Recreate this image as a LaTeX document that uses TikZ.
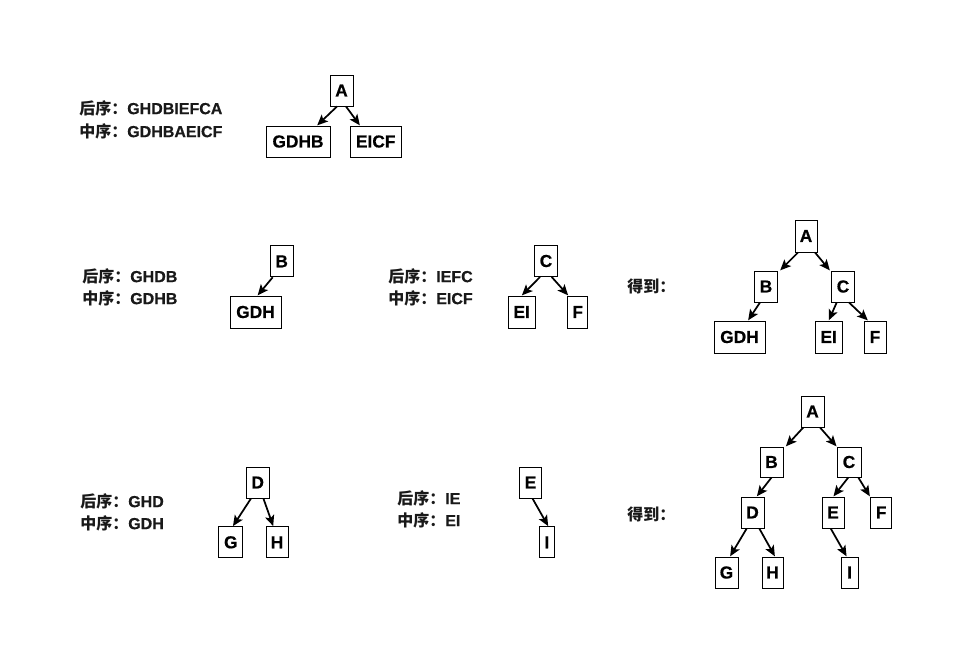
\documentclass[tikz,border=0pt]{standalone}
\usepackage{fontspec}
\setmainfont{Liberation Sans}[BoldFeatures={FakeBold=0.6}]
\newfontfamily\cjk{Noto Sans CJK SC}
\usetikzlibrary{calc,arrows.meta}
\tikzset{
  x=0.75pt, y=-0.75pt,
  bx/.style={draw=black, line width=0.7pt, inner sep=0pt, fill=white,
    font=\fontsize{13}{13}\selectfont\bfseries},
  lbl/.style={anchor=west, inner sep=0pt, font=\fontsize{12}{12}\selectfont\bfseries, text=black!90},
  arr/.style={line width=1.3pt, -{Stealth[length=8pt,width=7pt,inset=1.8pt]}, shorten >=0.2pt}
}
\newcommand{\bxn}[6]{\node[bx, minimum width=#4*0.75pt, minimum height=#5*0.75pt] (#1) at (#2,#3) {#6};}
\begin{document}
\begin{tikzpicture}
\useasboundingbox (0,0) rectangle (961,669);
% ---------- row 1 ----------
\node[lbl] (t1a) at (79,108) {{\cjk 后序：}GHDBIEFCA};
\node[lbl] (t1b) at (79,131) {{\cjk 中序：}GDHBAEICF};
\bxn{A1}{341.5}{90.5}{23}{31}{A}
\bxn{GDHB1}{298}{141.5}{64}{31}{GDHB}
\bxn{EICF1}{375.7}{141.5}{51}{31}{EICF}
\draw[arr] ($(A1.south)+(-4.5,0)$) -- ($(GDHB1.north)+(19,0)$);
\draw[arr] ($(A1.south)+(4.5,0)$) -- ($(EICF1.north)+(-15.7,0)$);
% ---------- row 2 ----------
\node[lbl] (t2a) at (82,276) {{\cjk 后序：}GHDB};
\node[lbl] (t2b) at (82,298) {{\cjk 中序：}GDHB};
\bxn{B2}{281.7}{261.3}{23}{31}{B}
\bxn{GDH2}{255.5}{312}{51}{32}{GDH}
\draw[arr] ($(B2.south)+(-9,0)$) -- ($(GDH2.north)+(2,0)$);
\node[lbl] (t2c) at (388,276) {{\cjk 后序：}IEFC};
\node[lbl] (t2d) at (388,298) {{\cjk 中序：}EICF};
\bxn{C2}{546}{261}{23}{31}{C}
\bxn{EI2}{521.7}{312}{27}{32}{EI}
\bxn{F2}{577.7}{312}{20}{32}{F}
\draw[arr] ($(C2.south)+(-6,0)$) -- (EI2.north);
\draw[arr] ($(C2.south)+(5.7,0)$) -- ($(F2.north)+(-9.4,0)$);
\node[lbl] (t2e) at (627,286) {{\cjk 得到：}};
\bxn{RA2}{806}{236}{22}{32}{A}
\bxn{RB2}{766}{286.5}{23}{31}{B}
\bxn{RC2}{843}{286.5}{23}{31}{C}
\bxn{RGDH2}{739.5}{337}{51}{32}{GDH}
\bxn{REI2}{828.7}{337}{27}{32}{EI}
\bxn{RF2}{875}{337}{22}{32}{F}
\draw[arr] ($(RA2.south)+(-8,0)$) -- ($(RB2.north)+(14,0)$);
\draw[arr] ($(RA2.south)+(9,0)$) -- ($(RC2.north)+(-13,0)$);
\draw[arr] ($(RB2.south)+(-6,0)$) -- ($(RGDH2.north)+(8.5,0)$);
\draw[arr] ($(RC2.south)+(-6.3,0)$) -- (REI2.north);
\draw[arr] ($(RC2.south)+(6,0)$) -- ($(RF2.north)+(-7,0)$);
% ---------- row 3 ----------
\node[lbl] (t3a) at (80,501) {{\cjk 后序：}GHD};
\node[lbl] (t3b) at (80,523) {{\cjk 中序：}GDH};
\bxn{D3}{257.7}{482.5}{23}{31}{D}
\bxn{G3}{230.8}{542.3}{23.7}{31}{G}
\bxn{H3}{277}{542.3}{22}{31}{H}
\draw[arr] ($(D3.south)+(-6.7,0)$) -- ($(G3.north)+(2,0)$);
\draw[arr] ($(D3.south)+(5.7,0)$) -- ($(H3.north)+(-3.7,0)$);
\node[lbl] (t3c) at (397,498) {{\cjk 后序：}IE};
\node[lbl] (t3d) at (397,520) {{\cjk 中序：}EI};
\bxn{E3}{530.5}{482.5}{22}{31}{E}
\bxn{I3}{546.8}{542.3}{15}{31}{I}
\draw[arr] ($(E3.south)+(2,0)$) -- ($(I3.north)+(1.5,0)$);
\node[lbl] (t3e) at (627,514) {{\cjk 得到：}};
\bxn{RA3}{812.5}{411.5}{23}{31}{A}
\bxn{RB3}{771.5}{462}{23}{30}{B}
\bxn{RC3}{849}{462}{24}{30}{C}
\bxn{RD3}{752.5}{512.5}{23}{31}{D}
\bxn{RE3}{833}{512.5}{22}{31}{E}
\bxn{RF3}{881.2}{512.5}{21.5}{31}{F}
\bxn{RG3}{726.5}{572.5}{23}{31}{G}
\bxn{RH3}{772.5}{572.5}{21}{31}{H}
\bxn{RI3}{849.5}{572.5}{17}{31}{I}
\draw[arr] ($(RA3.south)+(-9.2,0)$) -- ($(RB3.north)+(14.2,0)$);
\draw[arr] ($(RA3.south)+(7.5,0)$) -- ($(RC3.north)+(-12.3,0)$);
\draw[arr] (RB3.south) -- ($(RD3.north)+(4.2,0)$);
\draw[arr] ($(RC3.south)+(-0.7,0)$) -- ($(RE3.north)+(0.3,0)$);
\draw[arr] ($(RC3.south)+(9.3,0)$) -- ($(RF3.north)+(-11.2,0)$);
\draw[arr] ($(RD3.south)+(-5.8,0)$) -- ($(RG3.north)+(3.5,0)$);
\draw[arr] ($(RD3.south)+(6.8,0)$) -- ($(RH3.north)+(2.5,0)$);
\draw[arr] ($(RE3.south)+(-2.3,0)$) -- ($(RI3.north)+(-2.8,0)$);
\end{tikzpicture}
\end{document}
